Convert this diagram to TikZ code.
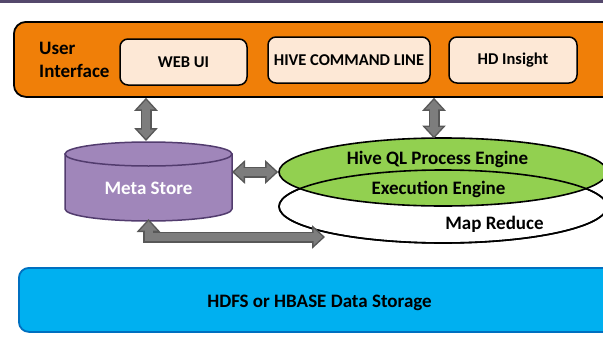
\documentclass[tikz,border=0pt]{standalone}
\usepackage{fontspec}
\setmainfont{Carlito}
\usetikzlibrary{shapes.geometric,arrows.meta}
\definecolor{uiorange}{RGB}{240,127,8}
\definecolor{uipeach}{RGB}{253,232,214}
\definecolor{metapurple}{RGB}{160,134,186}
\definecolor{metaline}{RGB}{82,60,110}
\definecolor{qlgreen}{RGB}{146,208,80}
\definecolor{hdfsblue}{RGB}{0,176,240}
\definecolor{hdfsline}{RGB}{0,112,192}
\definecolor{arrfill}{RGB}{125,125,125}
\definecolor{arrline}{RGB}{88,88,88}
\definecolor{topline}{RGB}{84,72,108}
\pgfdeclarelayer{bg}
\pgfsetlayers{bg,main}
\tikzset{
  bigtxt/.style={font=\bfseries\fontsize{19}{23}\selectfont},
  smalltxt/.style={font=\bfseries\fontsize{16.5}{20}\selectfont},
  uibox/.style={shape=rectangle, rounded corners=8pt, draw=black, line width=1.5pt, fill=uipeach, smalltxt},
  engine/.style={shape=ellipse, draw=black, line width=1.6pt, minimum width=328pt, inner sep=0pt},
  cyl/.style={draw=metaline, line width=1.5pt, fill=metapurple},
  dblout/.style={draw=arrline, line width=11pt, line join=miter,
    {Triangle[width=23pt,length=13pt]}-{Triangle[width=23pt,length=13pt]}},
  dblin/.style={draw=arrfill, line width=8pt, line join=miter, shorten <=2.2pt, shorten >=2.2pt,
    {Triangle[width=16.5pt,length=9.3pt]}-{Triangle[width=16.5pt,length=9.3pt]}}
}

\begin{document}
\begin{tikzpicture}[x=1pt,y=-1pt]
        \useasboundingbox (0,0) rectangle (603,343);
        \draw [topline, line width=3.5pt] (0,1.5) -- (603,1.5);

        \node (ui) [shape=rectangle, rounded corners=12pt, draw=black, line width=1.8pt, fill=uiorange, minimum width=640pt, minimum height=75pt, anchor=north west] at (13,21) {};
        \node (usr) [bigtxt, align=left, anchor=north west, inner sep=0pt] at (39,42) {User\\Interface};
        \node (webui) [uibox, minimum width=127pt, minimum height=46pt] at (183.5,62) {WEB UI};
        \node (hivecmd) [uibox, minimum width=162pt, minimum height=46pt] at (349,60) {HIVE COMMAND LINE};
        \node (hdins) [uibox, minimum width=128pt, minimum height=46pt] at (513,60) {HD Insight};

        % meta store drawn as a cylinder round its node
        \node (meta) [shape=rectangle, minimum width=167pt, minimum height=79pt, inner sep=0pt, outer sep=0pt] at (148.5,181.5) {};
        \draw [cyl] ([yshift=-12pt]meta.north west) -- ([yshift=12pt]meta.south west)
                arc [start angle=180, end angle=360, x radius=83.5pt, y radius=12pt]
                -- ([yshift=-12pt]meta.north east) -- cycle;
        \draw [cyl] ([yshift=-12pt]meta.north) ellipse [x radius=83.5pt, y radius=12pt];
        \node (metalbl) [bigtxt, text=white, anchor=base] at (148.5,194) {Meta Store};

        \begin{pgfonlayer}{bg}
                \node (mr) [engine, fill=white, minimum height=73pt] at (443,206.5) {};
        \end{pgfonlayer}
        \node (qle) [engine, fill=qlgreen, minimum height=68pt] at (443,172) {};
        \draw [black, line width=1.6pt] (mr.center) ellipse [x radius=164pt, y radius=36.5pt];
        \node (qllbl) [bigtxt, anchor=base] at (437.5,164) {Hive QL Process Engine};
        \node (exelbl) [bigtxt, anchor=base] at (438.5,194) {Execution Engine};
        \node (mrlbl) [bigtxt, anchor=base] at (494.5,229) {Map Reduce};

        \node (hdfs) [shape=rectangle, rounded corners=10pt, draw=hdfsline, line width=1.8pt, fill=hdfsblue, minimum width=640pt, minimum height=64pt, anchor=north west] at (18,267) {};
        \node (hdfslbl) [bigtxt, anchor=base] at (319.5,307) {HDFS or HBASE Data Storage};

        \coordinate (mstop) at (146,141);
        \coordinate (qltop) at (434,138.5);
        \coordinate (lend) at (325,237);

        \draw [dblout] (mstop |- ui.south) -- (mstop);
        \draw [dblin] (mstop |- ui.south) -- (mstop);
        \draw [dblout] (qltop |- ui.south) -- (qltop);
        \draw [dblin] (qltop |- ui.south) -- (qltop);
        \draw [dblout] (qle.west -| meta.east) -- (qle.west);
        \draw [dblin] (qle.west -| meta.east) -- (qle.west);
        \draw [dblout] ([yshift=2pt]meta.south) |- (lend);
        \draw [dblin] ([yshift=2pt]meta.south) |- (lend);
\end{tikzpicture}
\end{document}
